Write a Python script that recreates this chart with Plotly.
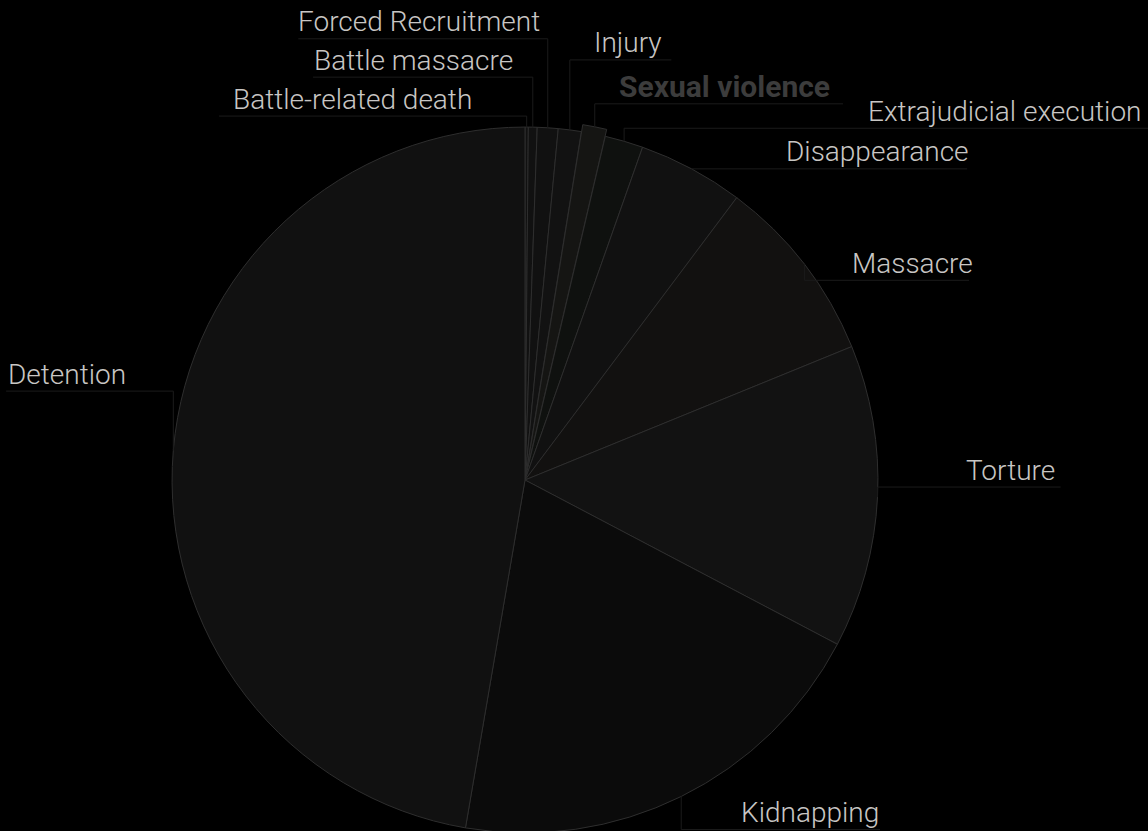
import math
import plotly.graph_objects as go

# ---- data ----
labels = ["Battle-related death", "Battle massacre", "Forced Recruitment", "Injury",
          "Sexual violence", "Extrajudicial execution", "Disappearance", "Massacre",
          "Torture", "Kidnapping", "Detention"]
values = [0.15, 0.40, 0.95, 1.05, 1.10, 1.75, 4.83, 8.58, 13.86, 19.97, 47.25]

# ---- styles ----
slice_colors = ["#111111", "#111111", "#111111", "#121212", "#151513", "#0f110f",
                "#111111", "#121110", "#121212", "#0b0b0b", "#111111"]
label_colors = ["#c8c6c4"] * len(labels)
label_colors[4] = "#3c3c3c"
label_weights = [300] * len(labels)
label_weights[4] = 700
label_sizes = [28] * len(labels)
label_sizes[4] = 30
pulls = [0, 0, 0, 0, 0.02, 0, 0, 0, 0, 0, 0]
# label text-centre offset (px) from the slice's outer mid point
label_offsets = [(-174, -28), (-119, -67), (-129, -106), (58, -87), (130, -40),
                 (380, -30), (186, -17), (108, -1), (133, -27), (129, 16), (-106, -76)]

W, H = 1148, 840
ML, MR, MT, MB = 0, 98, 120, 0
PW, PH = W - ML - MR, H - MT - MB
FONT = "Roboto, Lato, sans-serif"
LINE_COLOR = "#1b1b1b"

fig = go.Figure(go.Pie(
    labels=labels, values=values, sort=False, direction="clockwise",
    rotation=0, pull=pulls,
    marker=dict(colors=slice_colors, line=dict(color="#2e2e2e", width=1)),
    textinfo="none",
    showlegend=False, hoverinfo="label+percent",
    domain=dict(x=[0, 1], y=[0, 1]),
))

# pie geometry as plotly lays it out (centre of domain, radius shrunk by max pull)
cx, cy = ML + PW / 2, MT + PH / 2
R = min(PW, PH) / (2 * (1 + max(pulls)))


def to_paper(px, py):
    return (px - ML) / PW, 1 - (py - MT) / PH


total = sum(values)
cum = 0.0
annotations, shapes = [], []
for lab, v, col, wt, fs, pl, (dx, dy) in zip(labels, values, label_colors, label_weights,
                                              label_sizes, pulls, label_offsets):
    theta = 2 * math.pi * (cum + v / 2) / total
    cum += v
    r = R * (1 + pl)
    ax_, ay_ = cx + r * math.sin(theta), cy - r * math.cos(theta)
    tx, ty = ax_ + dx, ay_ + dy
    half_w = len(lab) * 0.235 * fs * (1.08 if wt > 400 else 1.0)
    uy = ty + 17
    far_x = tx - half_w - 2 if dx < 0 else tx + half_w + 4
    far_x = max(far_x, 0)
    p0 = to_paper(ax_, ay_)
    p1 = to_paper(ax_, uy)
    p2 = to_paper(far_x, uy)
    shapes.append(dict(type="path", xref="paper", yref="paper",
                       path=f"M{p0[0]},{p0[1]} L{p1[0]},{p1[1]} L{p2[0]},{p2[1]}",
                       line=dict(color=LINE_COLOR, width=1)))
    px_, py_ = to_paper(tx, ty)
    annotations.append(dict(x=px_, y=py_, xref="paper", yref="paper", text=lab,
                            showarrow=False, xanchor="center", yanchor="middle",
                            font=dict(family=FONT, size=fs, color=col, weight=wt)))

fig.update_layout(
    width=W, height=H,
    margin=dict(l=ML, r=MR, t=MT, b=MB),
    paper_bgcolor="#000000", plot_bgcolor="#000000",
    font=dict(family=FONT, color="#c8c6c4"),
    annotations=annotations, shapes=shapes,
)
fig.write_html("out.html", config={"displayModeBar": False},
               post_script="document.body.style.margin='0';document.body.style.background='#000';document.body.style.overflow='hidden';")
